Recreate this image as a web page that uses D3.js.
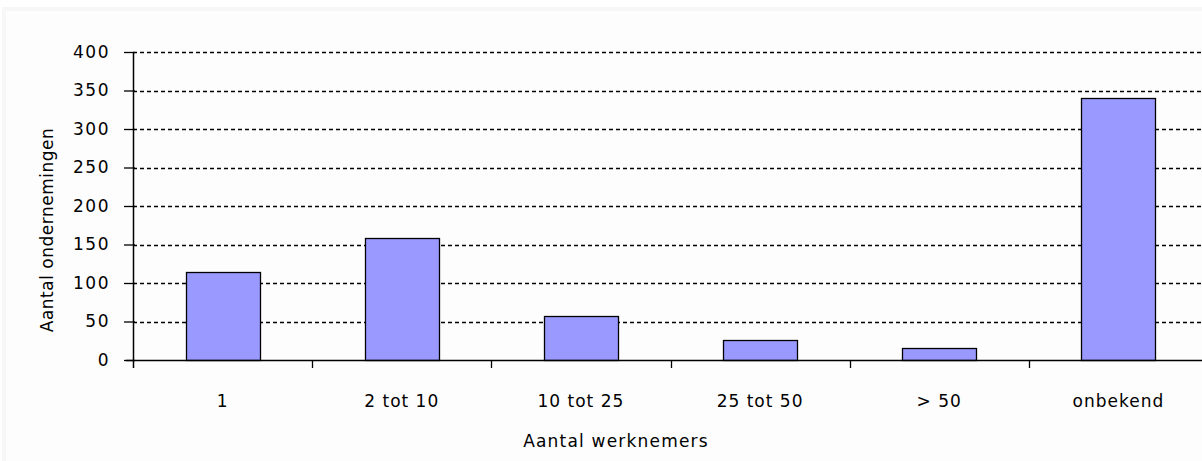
<!DOCTYPE html>
<html>
<head>
<meta charset="utf-8">
<script src="https://cdn.jsdelivr.net/npm/d3@7"></script>
<style>
  html, body { margin: 0; padding: 0; background: #ffffff; }
  svg { display: block; }
  text { font-family: "DejaVu Sans", Verdana, sans-serif; fill: #000; }
</style>
</head>
<body>
<svg id="chart" width="1202" height="461"></svg>
<script>
// Bedrijfsgrootte: aantal ondernemingen per klasse van werknemers
const categories = ["1", "2 tot 10", "10 tot 25", "25 tot 50", "> 50", "onbekend"];
const values = [114, 158, 57, 26, 16, 340];
const yTicks = [0, 50, 100, 150, 200, 250, 300, 350, 400];
const xTitle = "Aantal werknemers";
const yTitle = "Aantal ondernemingen";

const svg = d3.select("#chart");
const W = 1202, H = 461;
const margin = { left: 133, right: -6, top: 52, bottom: 101 };
const plotW = W - margin.left - margin.right;
const plotH = H - margin.top - margin.bottom;
const FS = 17;

// faint chart-area frame
svg.append("rect").attr("x", 0).attr("y", 0).attr("width", W).attr("height", H).attr("fill", "#ffffff");
svg.append("rect").attr("x", 4).attr("y", 9).attr("width", W).attr("height", H)
  .attr("fill", "#fdfdfd").attr("stroke", "#f7f7f7").attr("stroke-width", 4);

const g = svg.append("g").attr("transform", `translate(${margin.left},${margin.top})`);

const xb = d3.scaleBand().domain(categories).range([0, plotW]);
const y = d3.scaleLinear().domain([0, 400]).range([plotH, 0]);

// dashed horizontal gridlines
g.append("g").selectAll("line").data(yTicks.filter(d => d > 0)).join("line")
  .attr("x1", 0).attr("x2", plotW + 20)
  .attr("y1", d => Math.round(y(d)) + 0.5).attr("y2", d => Math.round(y(d)) + 0.5)
  .attr("stroke", "#000").attr("stroke-width", 1.3).attr("stroke-dasharray", "4,3");

// bars
g.append("g").selectAll("rect").data(values).join("rect")
  .attr("x", (d, i) => Math.round(xb(categories[i]) + xb.bandwidth() / 2 - 37) + 0.5)
  .attr("width", 74)
  .attr("y", d => Math.round(y(d)) + 0.5)
  .attr("height", d => plotH - Math.round(y(d)))
  .attr("fill", "#9999ff").attr("stroke", "#000").attr("stroke-width", 1.3);

// y axis
const yAxis = d3.axisLeft(y).tickValues(yTicks).tickSize(9).tickPadding(14);
const ya = g.append("g").call(yAxis);
ya.select(".domain").attr("stroke-width", 1.5).attr("d", `M0.5,${plotH + 8}V0.5`);
ya.selectAll(".tick line").attr("stroke-width", 1.3).attr("x2", -9).attr("x1", 2);
ya.selectAll("text").attr("font-size", FS).attr("letter-spacing", 1.5).attr("fill", "#000");

// x axis: ticks at category boundaries
const xa = g.append("g").attr("transform", `translate(0,${plotH})`);
xa.append("line").attr("x1", -7).attr("x2", plotW + 20).attr("y1", 0.5).attr("y2", 0.5)
  .attr("stroke", "#000").attr("stroke-width", 1.3);
xa.selectAll("line.sep").data(categories.slice(1)).join("line").attr("class", "sep")
  .attr("x1", d => Math.round(xb(d)) + 0.5).attr("x2", d => Math.round(xb(d)) + 0.5)
  .attr("y1", 0).attr("y2", 8).attr("stroke", "#000").attr("stroke-width", 1.3);
xa.selectAll("text.cat").data(categories).join("text").attr("class", "cat")
  .attr("x", d => xb(d) + xb.bandwidth() / 2)
  .attr("y", 47).attr("text-anchor", "middle").attr("font-size", FS).attr("letter-spacing", 1)
  .text(d => d);

// axis titles
svg.append("text").attr("x", 616).attr("y", 447).attr("text-anchor", "middle")
  .attr("font-size", FS).attr("letter-spacing", 1.2).text(xTitle);
svg.append("text").attr("transform", `translate(53,${margin.top + plotH / 2 + 24}) rotate(-90)`)
  .attr("text-anchor", "middle").attr("font-size", FS).attr("letter-spacing", 0.5).text(yTitle);
</script>
</body>
</html>
